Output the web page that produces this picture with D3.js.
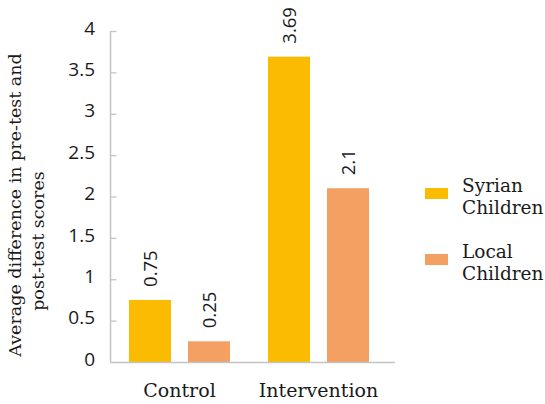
<!DOCTYPE html>
<html>
<head>
<meta charset="utf-8">
<script src="https://cdn.jsdelivr.net/npm/d3@7"></script>
<style>
  html, body { margin: 0; padding: 0; background: #fff; }
  svg { display: block; }
</style>
</head>
<body>
<svg id="chart" width="545" height="404"></svg>
<script>
// Average difference between pre-test and post-test scores
const categories = ["Control", "Intervention"];
const seriesNames = ["Syrian Children", "Local Children"];
const syrianValues = [0.75, 3.69];
const localValues = [0.25, 2.1];
const valueLabels = [["0.75", "0.25"], ["3.69", "2.1"]];
const yTicks = [0, 0.5, 1, 1.5, 2, 2.5, 3, 3.5, 4];
const yTickLabels = ["0", "0.5", "1", "1.5", "2", "2.5", "3", "3.5", "4"];
const legendLines = [["Syrian", "Children"], ["Local", "Children"]];
const colors = ["#FABB00", "#F3A062"];

const svg = d3.select("#chart");
const sansFont = "'Open Sans', 'Noto Sans', sans-serif";
const slabFont = "'DejaVu Serif', serif";
const textColor = "#1a1a1a";

const x0 = d3.scaleBand().domain(categories).range([110, 388]).paddingInner(0).paddingOuter(0);
const x1 = d3.scaleBand().domain(seriesNames).range([19, 120]).paddingInner(0.288).paddingOuter(0);
const y = d3.scaleLinear().domain([0, 4]).range([362, 31]);
const color = d3.scaleOrdinal().domain(seriesNames).range(colors);

const rows = categories.map((c, i) => ({
  category: c,
  values: [
    { series: seriesNames[0], value: syrianValues[i], label: valueLabels[i][0] },
    { series: seriesNames[1], value: localValues[i], label: valueLabels[i][1] }
  ]
}));

// Bars
const groups = svg.append("g").selectAll("g")
  .data(rows).join("g")
  .attr("transform", d => `translate(${x0(d.category)},0)`);

groups.selectAll("rect")
  .data(d => d.values).join("rect")
  .attr("x", d => x1(d.series))
  .attr("width", x1.bandwidth())
  .attr("y", d => y(d.value))
  .attr("height", d => y(0) - y(d.value))
  .attr("fill", d => color(d.series));

// Rotated value labels above bars
groups.selectAll("text.val")
  .data(d => d.values).join("text")
  .attr("class", "val")
  .attr("transform", d => `translate(${x1(d.series) + x1.bandwidth() / 2 + 7},${y(d.value) - 13}) rotate(-90)`)
  .attr("text-anchor", "start")
  .attr("font-family", sansFont)
  .attr("font-size", 18.5)
  .attr("fill", textColor)
  .text(d => d.label);

// Y axis
const yAxis = d3.axisRight(y).tickValues(yTicks.slice(1)).tickSize(6).tickFormat("");
const yAxisG = svg.append("g").attr("transform", "translate(110.5,0)").call(yAxis);
yAxisG.select(".domain").remove();
yAxisG.selectAll(".tick line").attr("stroke", "#c4c4c4").attr("stroke-width", 1.3);
svg.append("line")
  .attr("x1", 110.5).attr("x2", 110.5)
  .attr("y1", y(4)).attr("y2", y(0))
  .attr("stroke", "#c4c4c4").attr("stroke-width", 1.5);

svg.append("g").selectAll("text")
  .data(yTicks).join("text")
  .attr("x", 95)
  .attr("y", d => y(d) - 3)
  .attr("dy", "0.35em")
  .attr("text-anchor", "end")
  .attr("font-family", sansFont)
  .attr("font-size", 19)
  .attr("fill", textColor)
  .text((d, i) => yTickLabels[i]);

// X axis baseline and category labels
svg.append("line")
  .attr("x1", 110).attr("x2", 395)
  .attr("y1", y(0) + 0.5).attr("y2", y(0) + 0.5)
  .attr("stroke", "#c4c4c4").attr("stroke-width", 1.5);

svg.append("g").selectAll("text")
  .data(categories).join("text")
  .attr("x", d => x0(d) + x0.bandwidth() / 2)
  .attr("y", 397)
  .attr("text-anchor", "middle")
  .attr("font-family", slabFont)
  .attr("font-size", 19)
  .attr("fill", textColor)
  .text(d => d);

// Y axis title (two lines)
const titleLines = [
  { text: "Average difference in pre-test and", cx: 21, cy: 205 },
  { text: "post-test scores", cx: 44, cy: 241 }
];
svg.append("g").selectAll("text")
  .data(titleLines).join("text")
  .attr("transform", d => `translate(${d.cx},${d.cy}) rotate(-90)`)
  .attr("text-anchor", "middle")
  .attr("font-family", slabFont)
  .attr("font-size", 17.5)
  .attr("fill", textColor)
  .text(d => d.text);

// Legend
const legend = svg.append("g").selectAll("g")
  .data(seriesNames).join("g")
  .attr("transform", (d, i) => `translate(425,${188 + i * 66})`);
legend.append("rect")
  .attr("width", 23).attr("height", 11)
  .attr("fill", d => color(d));
legend.selectAll("text")
  .data((d, i) => legendLines[i]).join("text")
  .attr("x", 37)
  .attr("y", (d, j) => 4 + j * 22)
  .attr("font-family", slabFont)
  .attr("font-size", 18.5)
  .attr("fill", textColor)
  .text(d => d);
</script>
</body>
</html>
